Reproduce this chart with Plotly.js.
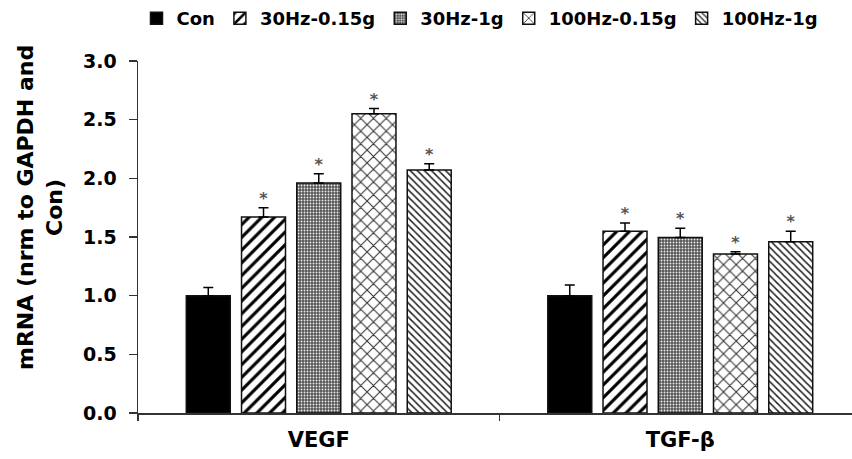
<!DOCTYPE html>
<html>
<head>
<meta charset="utf-8">
<script src="https://cdn.plot.ly/plotly-3.0.1.min.js"></script>
<style>html,body{margin:0;padding:0;background:#fff}#chart{width:852px;height:459px}</style>
</head>
<body>
<div id="chart"></div>
<script>
var categories = ['VEGF', 'TGF-β'];
var seriesNames = ['Con', '30Hz-0.15g', '30Hz-1g', '100Hz-0.15g', '100Hz-1g'];
var con = [1.00, 1.00];
var hz30_015 = [1.67, 1.55];
var hz30_1 = [1.96, 1.495];
var hz100_015 = [2.55, 1.355];
var hz100_1 = [2.07, 1.46];
var conErr = [0.07, 0.09];
var hz30_015Err = [0.08, 0.07];
var hz30_1Err = [0.08, 0.08];
var hz100_015Err = [0.045, 0.02];
var hz100_1Err = [0.055, 0.09];
var significance = [['', '*', '*', '*', '*'], ['', '*', '*', '*', '*']];

var values = [con, hz30_015, hz30_1, hz100_015, hz100_1];
var errors = [conErr, hz30_015Err, hz30_1Err, hz100_015Err, hz100_1Err];
var xIdx = categories.map(function(c, i){ return i; });

var patterns = [
  {shape: '', bgcolor: '#000'},
  {shape: '/', size: 9, solidity: 0.35, fgcolor: '#000', bgcolor: '#fff'},
  {shape: '.', size: 3, solidity: 0.3, fgcolor: '#eee', bgcolor: '#555'},
  {shape: 'x', size: 9, solidity: 0.22, fgcolor: '#333', bgcolor: '#fff'},
  {shape: '\\', size: 5, solidity: 0.3, fgcolor: '#222', bgcolor: '#fff'}
];
var fillColors = ['#000', '#fff', '#555', '#fff', '#fff'];

var bargap = 0.236, bargroupgap = 0.204;
var traces = [];
seriesNames.forEach(function(name, i){
  traces.push({
    type: 'bar', name: name, x: xIdx, y: values[i],
    marker: {color: fillColors[i], pattern: patterns[i], line: {color: '#111', width: 1.5}},
    error_y: {type: 'data', array: errors[i], symmetric: false, arrayminus: errors[i].map(function(){return 0;}),
              color: '#000', thickness: 1.5, width: 5},
    hoverinfo: 'skip'
  });
});
// significance markers above error bars
var slotW = (1 - bargap) / seriesNames.length;
var sx = [], sy = [], st = [];
seriesNames.forEach(function(name, i){
  xIdx.forEach(function(g){
    if (significance[g][i]) {
      sx.push(g + (i - (seriesNames.length - 1) / 2) * slotW);
      sy.push(values[i][g] + errors[i][g]);
      st.push(significance[g][i]);
    }
  });
});
traces.push({type: 'scatter', mode: 'text', x: sx, y: sy, text: st, textposition: 'top center',
  textfont: {family: 'DejaVu Sans', size: 16, color: '#555', weight: 'bold'}, showlegend: false, hoverinfo: 'skip'});

var F = 'DejaVu Sans';
var layout = {
  width: 852, height: 459,
  margin: {l: 138, r: 0, t: 61, b: 46},
  paper_bgcolor: '#fff', plot_bgcolor: '#fff',
  barmode: 'group', bargap: bargap, bargroupgap: bargroupgap,
  showlegend: true,
  legend: {orientation: 'h', x: 0.479, xanchor: 'center', yref: 'container', y: 1.0, yanchor: 'top',
           font: {family: F, size: 18, weight: 'bold', color: '#000'}, itemwidth: 30, tracegroupgap: 0},
  xaxis: {range: [-0.5, -0.5 + 714 / 361.5], tickvals: xIdx, ticktext: categories, ticks: '',
          showline: true, linecolor: '#333', linewidth: 1.5, showgrid: false, zeroline: false,
          tickfont: {family: F, size: 21, weight: 'bold', color: '#000'}, ticklabelstandoff: 7,
          minor: {tickvals: [-0.5, 0.5, 1.5], ticks: 'outside', ticklen: 6, tickcolor: '#333', tickwidth: 1.5, showgrid: false}},
  yaxis: {range: [0, 3], tickvals: [0, 0.5, 1, 1.5, 2, 2.5, 3], ticktext: ['0.0','0.5','1.0','1.5','2.0','2.5','3.0'],
          ticks: 'outside', ticklen: 8, tickwidth: 1.5, tickcolor: '#333',
          showline: true, linecolor: '#333', linewidth: 1.5, showgrid: false, zeroline: false,
          tickfont: {family: F, size: 19, weight: 'bold', color: '#000'}, ticklabelstandoff: 8},
  annotations: [{text: 'mRNA (nrm to GAPDH and<br>Con)', textangle: -90, xref: 'paper', yref: 'paper',
                 x: (40 - 138) / 714, y: (413 - 207) / 352, xanchor: 'center', yanchor: 'middle', showarrow: false,
                 font: {family: F, size: 22, weight: 'bold', color: '#000'}}]
};
Plotly.newPlot('chart', traces, layout, {displayModeBar: false, staticPlot: true});
</script>
</body>
</html>
